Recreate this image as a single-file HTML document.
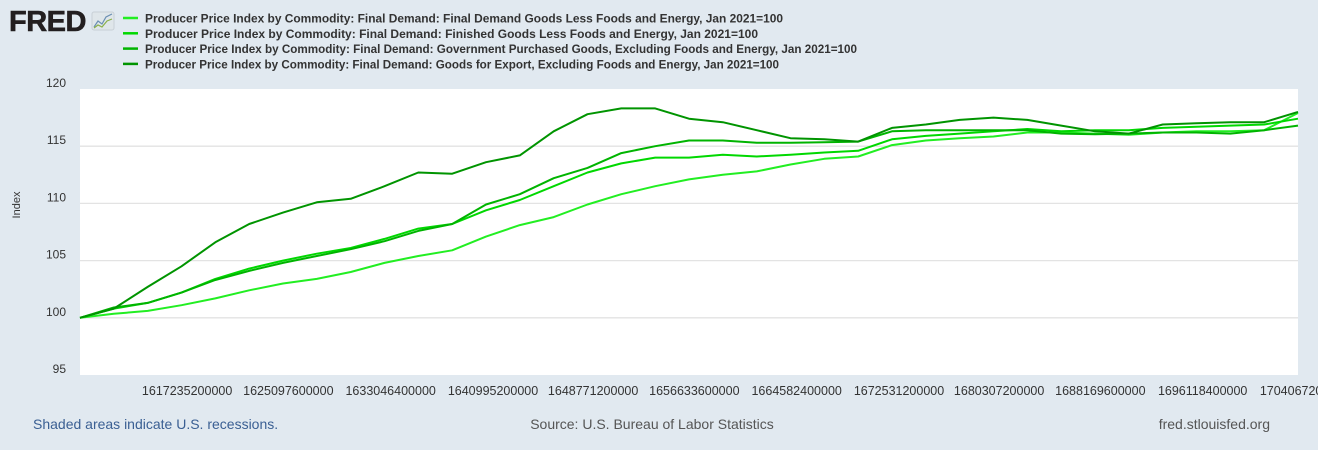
<!DOCTYPE html>
<html><head><meta charset="utf-8"><style>
body{margin:0;width:1318px;height:450px;background:#e1e9f0;font-family:"Liberation Sans",sans-serif;overflow:hidden}
svg{display:block}
</style></head><body>
<svg width="1318" height="450" xmlns="http://www.w3.org/2000/svg">
<g>
<text x="9" y="31" font-size="29" font-weight="bold" fill="#231f20" font-family="Liberation Sans,sans-serif" letter-spacing="-0.5" stroke="#231f20" stroke-width="0.6">FRED</text>
<rect x="92" y="12" width="22" height="18" rx="2" fill="#dfe6ea" stroke="#c8d0d6"/>
<polyline points="94,27 98,21 102,24 106,17 112,14" fill="none" stroke="#6a8fb3" stroke-width="1.2"/>
<polyline points="94,28 98,25 102,27 107,21 112,19" fill="none" stroke="#8ab04a" stroke-width="1.2"/>
</g>
<g id="legend"></g>
<rect x="80" y="89" width="1218" height="286" fill="#fff"/>
<g id="grid"></g>
<g id="series"></g>
<g id="xlabels"></g>
<text x="20" y="205" transform="rotate(-90 20 205)" font-size="11" fill="#333" text-anchor="middle">Index</text>
<text x="33" y="429" font-size="14" fill="#3a5f93">Shaded areas indicate U.S. recessions.</text>
<text x="652" y="429" font-size="14" fill="#555" text-anchor="middle">Source: U.S. Bureau of Labor Statistics</text>
<text x="1270" y="429" font-size="14" fill="#555" text-anchor="end">fred.stlouisfed.org</text>
</svg>
<script>
const seriesNames=["Producer Price Index by Commodity: Final Demand: Final Demand Goods Less Foods and Energy, Jan 2021=100","Producer Price Index by Commodity: Final Demand: Finished Goods Less Foods and Energy, Jan 2021=100","Producer Price Index by Commodity: Final Demand: Government Purchased Goods, Excluding Foods and Energy, Jan 2021=100","Producer Price Index by Commodity: Final Demand: Goods for Export, Excluding Foods and Energy, Jan 2021=100"];
const seriesColors=["#22ee22","#00d800","#00b400","#009400"];
const goodsLessFE=[100,100.35,100.6,101.1,101.7,102.4,103.0,103.4,104.0,104.8,105.4,105.9,107.1,108.1,108.8,109.9,110.8,111.5,112.1,112.5,112.8,113.4,113.9,114.1,115.1,115.5,115.7,115.85,116.2,116.2,116.1,116.0,116.2,116.3,116.3,116.4,117.9];
const finishedLessFE=[100,100.8,101.3,102.2,103.4,104.3,105.0,105.6,106.1,106.9,107.8,108.2,109.4,110.3,111.5,112.7,113.5,114.0,114.0,114.25,114.1,114.25,114.45,114.6,115.6,115.9,116.1,116.3,116.5,116.3,116.4,116.4,116.6,116.7,116.8,116.9,117.4];
const govPurchased=[100,100.9,101.3,102.2,103.3,104.1,104.8,105.4,106.0,106.7,107.6,108.2,109.9,110.8,112.2,113.1,114.4,115.0,115.5,115.5,115.3,115.3,115.35,115.4,116.3,116.4,116.4,116.4,116.4,116.1,116.05,116.1,116.2,116.2,116.1,116.4,116.8];
const exportGoods=[100,100.8,102.7,104.5,106.6,108.2,109.2,110.1,110.4,111.5,112.7,112.6,113.6,114.2,116.3,117.8,118.3,118.3,117.4,117.1,116.4,115.7,115.6,115.4,116.6,116.9,117.3,117.5,117.3,116.8,116.3,116.1,116.9,117.0,117.1,117.1,118.0];
const yTicks=[95,100,105,110,115,120];
const xTickLabels=["1617235200000","1625097600000","1633046400000","1640995200000","1648771200000","1656633600000","1664582400000","1672531200000","1680307200000","1688169600000","1696118400000","1704067200000"];
const startMs=1609459200000,endMs=1704067200000;
const ns="http://www.w3.org/2000/svg";
const X0=80,X1=1298,Y0=375,Y1=89;
function yScale(v){return Y0-(v-95)/(120-95)*(Y0-Y1);}
function xIdx(i,n){return X0+i*(X1-X0)/(n-1);}
function xTime(ms){return X0+(ms-startMs)/(endMs-startMs)*(X1-X0);}
function mk(tag,attrs,parent){const e=document.createElementNS(ns,tag);for(const k in attrs)e.setAttribute(k,attrs[k]);parent.appendChild(e);return e;}
const grid=document.getElementById('grid');
yTicks.forEach(v=>{
  if(v>95&&v<120){const l=mk('line',{x1:X0,x2:X1,y1:yScale(v),y2:yScale(v),stroke:'#e3e3e3','stroke-width':1.3},grid);
  
  }
  const t=mk('text',{x:66,y:yScale(v)-2,'font-size':12,fill:'#333','text-anchor':'end'},grid);
  t.textContent=v;
  
  
});
const xl=document.getElementById('xlabels');
xTickLabels.forEach(s=>{
  const t=mk('text',{x:xTime(Number(s))+7,y:395,'font-size':12.5,fill:'#333','text-anchor':'middle'},xl);
  t.textContent=s;
  
  
});
const all=[goodsLessFE,finishedLessFE,govPurchased,exportGoods];
const sg=document.getElementById('series');
all.forEach((arr,k)=>{
  const pts=arr.map((v,i)=>xIdx(i,arr.length).toFixed(1)+','+yScale(v).toFixed(1)).join(' ');
  const p=mk('polyline',{points:pts,fill:'none',stroke:seriesColors[k],'stroke-width':2,'stroke-linejoin':'round'},sg);
  
  
});
const lg=document.getElementById('legend');
seriesNames.forEach((n,k)=>{
  const y=18+k*15.3;
  const l=mk('line',{x1:123,x2:138,y1:y,y2:y,stroke:seriesColors[k],'stroke-width':2.5},lg);
  
  
  const t=mk('text',{x:145,y:y+4.5,'font-size':11.7,'font-weight':'bold',fill:'#333','font-family':'Liberation Sans Narrow, Liberation Sans, sans-serif'},lg);
  t.textContent=n;
  
  
  const w=[638,613,712,634][k];
  t.setAttribute('textLength',w);
  t.setAttribute('lengthAdjust','spacingAndGlyphs');
});
</script>
</body></html>
